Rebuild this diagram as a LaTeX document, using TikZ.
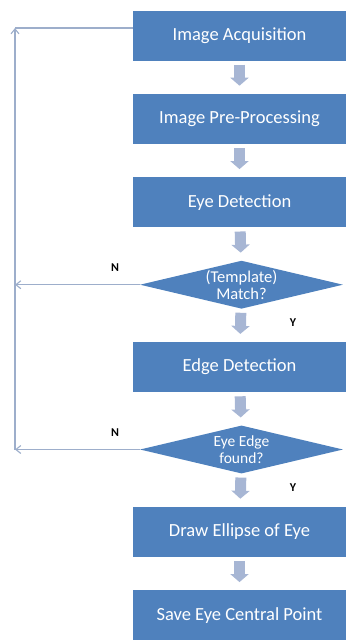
\documentclass[tikz,border=0pt]{standalone}
\usepackage{fontspec}
\setmainfont{Carlito}
\usetikzlibrary{shapes.geometric,arrows.meta,positioning,calc}
\definecolor{boxblue}{HTML}{4F81BD}
\definecolor{arrowgrey}{HTML}{A7B6D4}
\definecolor{loopgrey}{HTML}{9DAECB}

\begin{document}
\begin{tikzpicture}[
    x=1pt, y=1pt,
    node distance=33pt,
    stepbox/.style={rectangle, fill=boxblue, text=white, minimum width=213pt, minimum height=50pt, align=center, font=\fontsize{18.5}{20}\selectfont},
    decision/.style={diamond, fill=boxblue, minimum width=203pt, minimum height=48pt, inner sep=0pt},
    dtext/.style={text=white, align=center, inner sep=0pt},
    flow/.style={arrowgrey, line width=11pt, -{Triangle[width=18pt, length=8pt]}, shorten <=4pt, shorten >=8pt},
    back/.style={loopgrey, line width=1.1pt},
    yn/.style={font=\fontsize{12}{14}\selectfont\bfseries}
]
    \useasboundingbox (0,0) rectangle (346,-641);

    % Main column
    \node[stepbox] (acq) at (239.5,-35.5) {Image Acquisition};
    \node[stepbox, below=of acq] (pre) {Image Pre-Processing};
    \node[stepbox, below=of pre] (eye) {Eye Detection};
    \node[decision, below=of eye, xshift=2pt, label={[dtext, font=\fontsize{16.5}{17}\selectfont]center:{(Template)\\Match?}}] (match) {};
    \node[stepbox, below=of match, xshift=-2pt] (edge) {Edge Detection};
    \node[decision, below=of edge, xshift=2pt, label={[dtext, font=\fontsize{15.5}{17.5}\selectfont]center:{Eye Edge\\found?}}] (found) {};
    \node[stepbox, below=of found, xshift=-2pt] (ellipse) {Draw Ellipse of Eye};
    \node[stepbox, below=of ellipse] (save) {Save Eye Central Point};

    % Block arrows
    \draw[flow] (acq) -- (pre);
    \draw[flow] (pre) -- (eye);
    \draw[flow] (eye) -- (match);
    \draw[flow] (match) -- (edge);
    \draw[flow] (edge) -- (found);
    \draw[flow] (found) -- (ellipse);
    \draw[flow] (ellipse) -- (save);

    % Y / N labels
    \node[yn] (n1) at (115,-268) {N};
    \node[yn] (y1) at (293,-323) {Y};
    \node[yn] (n2) at (115,-433) {N};
    \node[yn] (y2) at (293,-488) {Y};

    % Feedback line
    \coordinate (corner) at (15,-28);
    \draw[back, -{Straight Barb[length=5pt, width=8pt]}] (match.west) -- (match.west -| corner);
    \draw[back, -{Straight Barb[length=5pt, width=8pt]}] (found.west) -- (found.west -| corner);
    \draw[back, -{Straight Barb[length=5pt, width=8pt]}] (found.west -| corner) -- (corner);
    \draw[back] (corner) -- (corner -| acq.west);
\end{tikzpicture}
\end{document}
